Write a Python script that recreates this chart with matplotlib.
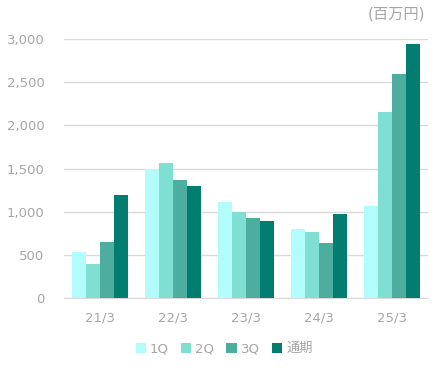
import numpy as np
import matplotlib
matplotlib.use("Agg")
import matplotlib.pyplot as plt

plt.rcParams["font.family"] = ["DejaVu Sans", "Noto Sans CJK JP"]

years = ["21/3", "22/3", "23/3", "24/3", "25/3"]
series_names = ["1Q", "2Q", "3Q", "通期"]
q1 = [533, 1494, 1112, 799, 1065]
q2 = [394, 1563, 996, 764, 2154]
q3 = [648, 1366, 926, 637, 2594]
full_year = [1193, 1297, 892, 973, 2941]
y_ticks = [0, 500, 1000, 1500, 2000, 2500, 3000]

colors = ["#b3fcfc", "#80dfd3", "#4daea0", "#037d6f"]
text_color = "#a6a6a6"

fig = plt.figure(figsize=(4.38, 3.73), dpi=100)
ax = fig.add_axes([0.146, 0.201, 0.831, 0.694])

x = np.arange(len(years))
bw = 0.1925
for i, (vals, name) in enumerate(zip([q1, q2, q3, full_year], series_names)):
    ax.bar(x + (i - 1.5) * bw, vals, width=bw, color=colors[i], label=name, zorder=3)

ax.set_xlim(-0.5, len(years) - 0.5)
ax.set_ylim(0, 3000)
ax.set_yticks(y_ticks)
ax.set_yticklabels([f"{v:,}" for v in y_ticks])
ax.set_xticks(x)
ax.set_xticklabels(years)
ax.grid(axis="y", color="#d9d9d9", linewidth=1, zorder=0)
for s in ["top", "right", "left"]:
    ax.spines[s].set_visible(False)
ax.spines["bottom"].set_color("#d9d9d9")
ax.tick_params(axis="both", length=0, colors=text_color, labelsize=9.5)
ax.tick_params(axis="y", pad=14)
ax.tick_params(axis="x", pad=10)

fig.text(0.97, 0.963, "(百万円)", ha="right", va="center", color=text_color, fontsize=11)

ax.legend(loc="upper center", bbox_to_anchor=(0.44, -0.125), ncol=4, frameon=False,
          handlelength=0.8, handleheight=0.8, handletextpad=0.3, columnspacing=0.9,
          fontsize=9.5, labelcolor=text_color)

fig.savefig("out.png", dpi=100)
